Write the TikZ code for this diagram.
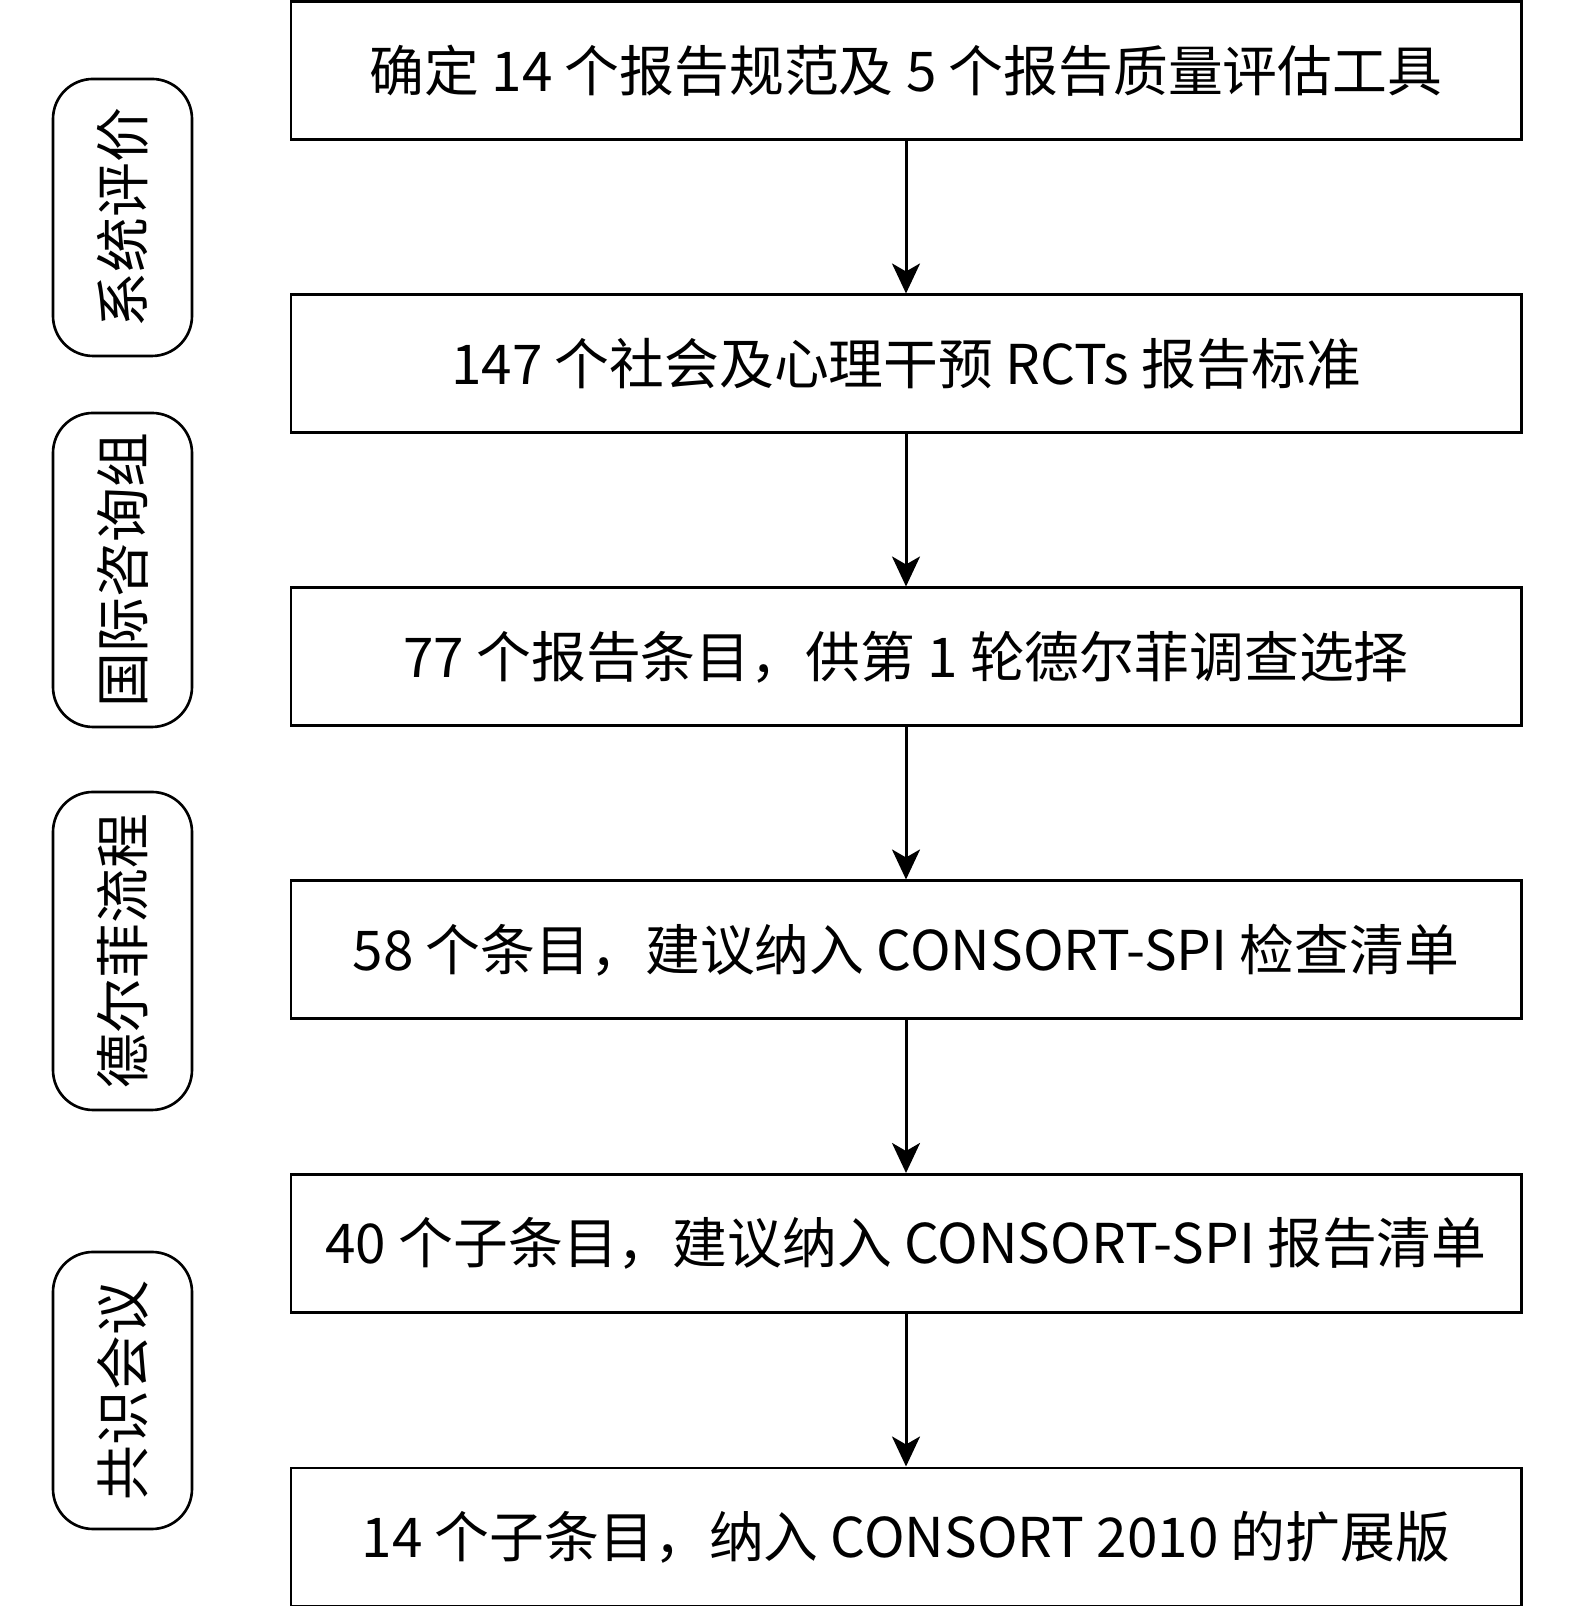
\documentclass[tikz,border=0pt]{standalone}
\usepackage{fontspec}
\setmainfont{Noto Sans CJK SC}
\usetikzlibrary{shapes.geometric, arrows.meta}
\tikzset{
    stage/.style={draw, line width=0.85pt, minimum width=12.3cm, minimum height=1.38cm, font=\fontsize{15.6}{18}\selectfont},
    phase/.style={draw, line width=0.75pt, rounded corners=0.4cm, rotate=90, minimum height=1.39cm, font=\fontsize{15.6}{18}\selectfont},
    flow/.style={line width=0.85pt, -{Stealth[length=0.3cm, width=0.28cm, inset=0.08cm]}}
}

\begin{document}
\begin{tikzpicture}
        \useasboundingbox (0,0) rectangle (15.75,16.06);

        \node[stage] (tools)    at (9.06,15.35) {确定 14 个报告规范及 5 个报告质量评估工具};
        \node[stage] (standard) at (9.06,12.42) {147 个社会及心理干预 RCTs 报告标准};
        \node[stage] (round1)   at (9.06,9.49)  {77 个报告条目，供第 1 轮德尔菲调查选择};
        \node[stage] (items58)  at (9.06,6.56)  {58 个条目，建议纳入 CONSORT-SPI 检查清单};
        \node[stage] (items40)  at (9.06,3.625) {40 个子条目，建议纳入 CONSORT-SPI 报告清单};
        \node[stage] (final)    at (9.06,0.69)  {14 个子条目，纳入 CONSORT 2010 的扩展版};

        \node[phase, minimum width=2.77cm] (review)  at (1.225,13.885) {系统评价};
        \node[phase, minimum width=3.14cm] (advisor) at (1.225,10.36)  {国际咨询组};
        \node[phase, minimum width=3.18cm] (delphi)  at (1.225,6.55)   {德尔菲流程};
        \node[phase, minimum width=2.77cm] (meeting) at (1.225,2.155)  {共识会议};

        \draw[flow] (tools) -- (standard);
        \draw[flow] (standard) -- (round1);
        \draw[flow] (round1) -- (items58);
        \draw[flow] (items58) -- (items40);
        \draw[flow] (items40) -- (final);
    \end{tikzpicture}
\end{document}
